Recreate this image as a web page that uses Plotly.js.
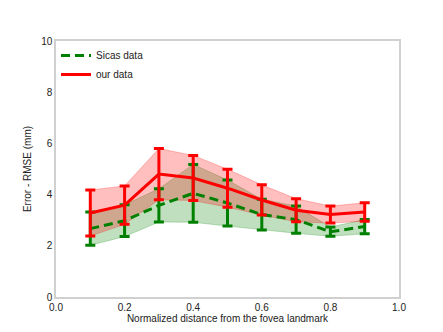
<!DOCTYPE html>
<html>
<head>
<meta charset="utf-8">
<script src="https://cdn.plot.ly/plotly-3.0.1.min.js"></script>
<style>
  body { margin: 0; padding: 0; background: #fff; }
  #chart { width: 443px; height: 332px; }
</style>
</head>
<body>
<div id="chart"></div>
<script>
// Normalized distance positions
const distances = [0.1, 0.2, 0.3, 0.4, 0.5, 0.6, 0.7, 0.8, 0.9];

// Sicas data: mean RMSE and std
const sicasMean = [2.67, 2.98, 3.58, 4.05, 3.67, 3.22, 3.02, 2.55, 2.75];
const sicasStd = [0.65, 0.62, 0.65, 1.13, 0.90, 0.60, 0.53, 0.18, 0.28];

// our data: mean RMSE and std
const ourMean = [3.28, 3.59, 4.80, 4.65, 4.25, 3.79, 3.39, 3.22, 3.32];
const ourStd = [0.90, 0.75, 1.00, 0.88, 0.74, 0.59, 0.45, 0.33, 0.36];

const xTicks = [0.0, 0.2, 0.4, 0.6, 0.8, 1.0];
const xTickText = ['0.0', '0.2', '0.4', '0.6', '0.8', '1.0'];
const yTicks = [0, 2, 4, 6, 8, 10];

function band(mean, std, lineColor, fillColor) {
    const upper = mean.map((m, i) => m + std[i]);
    const lower = mean.map((m, i) => m - std[i]);
    return [
        {
            x: distances, y: upper, type: 'scatter', mode: 'lines',
            line: { color: lineColor, width: 0.8 },
            showlegend: false, hoverinfo: 'skip'
        },
        {
            x: distances, y: lower, type: 'scatter', mode: 'lines',
            line: { color: lineColor, width: 0.8 },
            fill: 'tonexty', fillcolor: fillColor,
            showlegend: false, hoverinfo: 'skip'
        }
    ];
}

const traces = [
    ...band(sicasMean, sicasStd, 'rgba(0,128,0,0.3)', 'rgba(0,128,0,0.25)'),
    ...band(ourMean, ourStd, 'rgba(255,0,0,0.3)', 'rgba(255,0,0,0.25)'),
    {
        x: distances, y: sicasMean, type: 'scatter', mode: 'lines',
        name: 'Sicas data',
        line: { color: 'green', width: 3, dash: '9px,5px' },
        error_y: { type: 'data', array: sicasStd, visible: true, color: 'green', thickness: 3, width: 5 }
    },
    {
        x: distances, y: ourMean, type: 'scatter', mode: 'lines',
        name: 'our data',
        line: { color: 'red', width: 3 },
        error_y: { type: 'data', array: ourStd, visible: true, color: 'red', thickness: 3, width: 5 }
    }
];

const layout = {
    width: 443,
    height: 332,
    margin: { l: 56, r: 44, t: 41, b: 35 },
    paper_bgcolor: 'white',
    plot_bgcolor: 'white',
    font: { family: 'Liberation Sans, Arial, sans-serif', size: 10, color: '#222' },
    xaxis: {
        range: [0, 1],
        tickvals: xTicks,
        ticktext: xTickText,
        showgrid: false,
        zeroline: false,
        showline: true,
        mirror: true,
        linecolor: '#d0d0d0',
        linewidth: 1.5,
        ticks: '',
        automargin: false,
        title: { text: 'Normalized distance from the fovea landmark', standoff: 2, font: { size: 10 } }
    },
    yaxis: {
        range: [0, 10],
        tickvals: yTicks,
        showgrid: false,
        zeroline: false,
        showline: true,
        mirror: true,
        linecolor: '#d0d0d0',
        linewidth: 1.5,
        ticks: '',
        automargin: false,
        title: { text: 'Error - RMSE (mm)', standoff: 8, font: { size: 10 } }
    },
    showlegend: true,
    legend: {
        x: 0.0,
        y: 1.0,
        traceorder: 'normal',
        bgcolor: 'rgba(255,255,255,0)',
        borderwidth: 0,
        font: { size: 10 },
        tracegroupgap: 0,
        itemwidth: 30
    }
};

Plotly.newPlot('chart', traces, layout, { displayModeBar: false });
</script>
</body>
</html>
